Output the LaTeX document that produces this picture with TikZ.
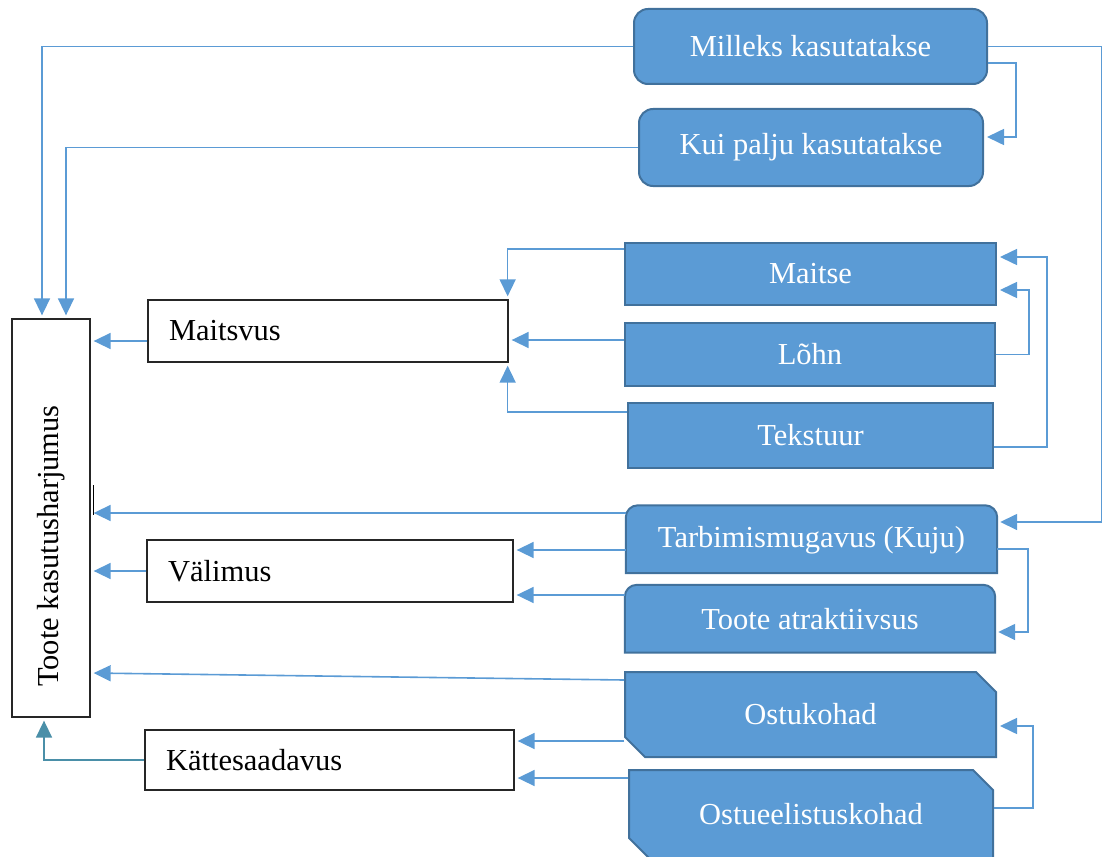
\documentclass[tikz,border=0pt]{standalone}
\usepackage{fontspec}
\setmainfont{Liberation Serif}
\usepackage{graphicx}
\usetikzlibrary{arrows.meta, shapes.misc, backgrounds, calc}
\definecolor{boxfill}{HTML}{5B9BD5}
\definecolor{boxedge}{HTML}{41719C}
\definecolor{linkblue}{HTML}{5B9BD5}
\definecolor{linkteal}{HTML}{4A8FA8}

\begin{document}
\begin{tikzpicture}[x=1pt, y=-1pt, font=\fontsize{30.5}{36}\selectfont,
    bluebox/.style={draw=boxedge, fill=boxfill, line width=2pt, text=white, inner sep=0pt},
    topround/.style={draw=boxedge, fill=boxfill, line width=2pt},
    snipbox/.style={bluebox, chamfered rectangle, chamfered rectangle corners={north east, south west}, chamfered rectangle sep=10pt},
    whitebox/.style={draw=black!85, line width=1.3pt, inner xsep=21pt, inner ysep=0pt, align=left},
    link/.style={draw=linkblue, line width=1.6pt, -{Triangle[length=17pt, width=16pt]}, shorten >=3pt}]
    \useasboundingbox (0,0) rectangle (1102,856);

    % Main box
    \node[draw=black!85, line width=1.3pt, minimum width=78pt, minimum height=398pt, inner sep=0pt] (main) at (51,518) {\rotatebox{90}{Toote kasutusharjumus\hspace*{56pt}}};

    % Middle boxes
    \node[whitebox, text width=318pt, minimum height=62pt] (maitsvus) at (328,331) {Maitsvus};
    \node[whitebox, text width=324pt, minimum height=62pt] (valimus) at (330,571) {Välimus};
    \node[whitebox, text width=327pt, minimum height=60pt] (kattes) at (329.5,760) {Kättesaadavus};

    % Blue boxes
    \node[bluebox, rounded corners=14pt, minimum width=353pt, minimum height=75pt] (milleks) at (810.5,46.5) {Milleks kasutatakse};
    \node[bluebox, rounded corners=14pt, minimum width=344pt, minimum height=77pt] (kuipalju) at (811,147.5) {Kui palju kasutatakse};
    \node[bluebox, minimum width=371pt, minimum height=62pt] (maitse) at (810.5,274) {Maitse};
    \node[bluebox, minimum width=370pt, minimum height=63pt] (lohn) at (810,354.5) {Lõhn};
    \node[bluebox, minimum width=365pt, minimum height=65pt] (tekstuur) at (810.5,435.5) {Tekstuur};
    \node[inner sep=0pt, text=white, minimum width=371pt, minimum height=69pt] (tarb) at (811.5,540) {Tarbimismugavus (Kuju)};
    \node[inner sep=0pt, text=white, minimum width=370pt, minimum height=69pt] (atrakt) at (810,619.5) {Toote atraktiivsus};
    \node[snipbox, minimum width=371pt, minimum height=85pt] (ostu) at (810.5,714.5) {Ostukohad};
    \node[snipbox, minimum width=364pt, minimum height=88pt] (ostuee) at (811,814) {Ostueelistuskohad};

    \begin{scope}[on background layer]
        \foreach \n in {tarb, atrakt}
            \path[topround] ([yshift=1.5pt]\n.south west) -- ([yshift=-12pt]\n.north west)
                arc[start angle=180, end angle=90, radius=12pt] -- ([xshift=-12pt]\n.north east)
                arc[start angle=90, end angle=0, radius=12pt] -- ([yshift=1.5pt]\n.south east) -- cycle;
    \end{scope}

    % Ports
    \coordinate (lohnL) at ([yshift=14.5pt]lohn.west);
    \coordinate (maitsvusL) at ([yshift=-10pt]maitsvus.west);
    \coordinate (tarbL) at ([yshift=27pt]tarb.west);
    \coordinate (tarbV) at ([yshift=-10pt]tarb.west);
    \coordinate (atraktL) at ([yshift=24.5pt]atrakt.west);
    \coordinate (ostuL) at ([yshift=34.5pt]ostu.west);
    \coordinate (ostuK) at ([yshift=-26.5pt]ostu.west);
    \coordinate (ostueeL) at ([yshift=36pt]ostuee.west);

    % Connectors
    \draw[link] (milleks.west) -| ([xshift=-9pt]main.north);
    \draw[link] (kuipalju.west) -| ([xshift=15pt]main.north);
    \draw[link] (milleks.east) -- ++(114,0) |- ([yshift=18pt]tarb.east);
    \draw[link] ([yshift=-16.5pt]milleks.east) -- ++(28,0) |- ([yshift=10.5pt]kuipalju.east);

    \draw[link] ([yshift=25pt]maitse.west) -| ([xshift=-1pt]maitsvus.north east);
    \draw[link] (lohnL) -- (lohnL -| maitsvus.east);
    \draw[link] ([yshift=23.5pt]tekstuur.west) -| ([xshift=-1pt]maitsvus.south east);
    \draw[link] (lohn.east) -- ++(33,0) |- ([yshift=-16pt]maitse.east);
    \draw[link] ([yshift=-11.5pt]tekstuur.east) -- ++(53,0) |- ([yshift=17pt]maitse.east);

    \draw[link] (maitsvusL) -- (maitsvusL -| main.east);
    \draw[link] (tarbL) -- (tarbL -| main.east);
    \draw[black, line width=1.2pt] ([xshift=3pt, yshift=33pt]main.east) -- ++(0,30);
    \draw[link] (tarbV) -- (tarbV -| valimus.east);
    \draw[link] (atraktL) -- (atraktL -| valimus.east);
    \draw[link] ([yshift=-9pt]tarb.east) -- ++(31,0) |- ([yshift=-12.5pt]atrakt.east);
    \draw[link] (valimus.west) -- (valimus.west -| main.east);

    \draw[link] (ostuL) -- ([yshift=-155pt]main.east);
    \draw[link] (ostuK) -- (ostuK -| kattes.east);
    \draw[link] (ostueeL) -- (ostueeL -| kattes.east);
    \draw[link] ([yshift=6pt]ostuee.east) -- ++(39,0) |- ([yshift=-11.5pt]ostu.east);
    \draw[link, draw=linkteal] (kattes.west) -| ([xshift=-7pt]main.south);
\end{tikzpicture}
\end{document}
